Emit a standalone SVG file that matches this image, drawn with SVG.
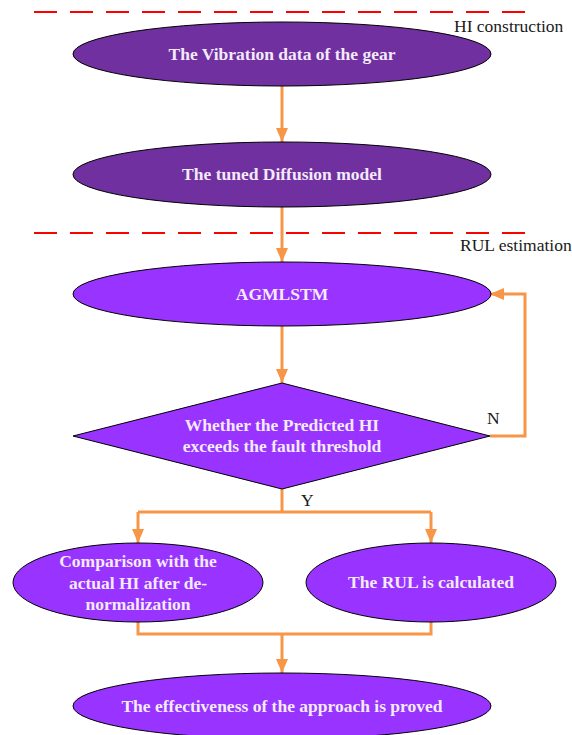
<svg xmlns="http://www.w3.org/2000/svg" width="572" height="735" viewBox="0 0 572 735">
  <style>
    .dark { fill: #7030A0; stroke: #000000; stroke-width: 1; }
    .light { fill: #9933FF; stroke: #000000; stroke-width: 1; }
    .nt { font-family: "Liberation Serif", "Times New Roman", serif; font-weight: bold; font-size: 17.5px; fill: #F3EAFB; text-anchor: middle; }
    .lbl { font-family: "Liberation Serif", "Times New Roman", serif; font-size: 17.5px; fill: #1a1a1a; }
    .sep { stroke: #FF0000; stroke-width: 2; stroke-dasharray: 23 13; fill: none; }
    .conn { stroke: #F79646; stroke-width: 3; fill: none; }
  </style>
  <defs>
    <marker id="ah" viewBox="0 0 14 12" refX="14" refY="6" markerWidth="14" markerHeight="12" markerUnits="userSpaceOnUse" orient="auto">
      <path d="M0,0 L14,6 L0,12 Z" fill="#F79646"/>
    </marker>
  </defs>

  <g id="separators">
    <line class="sep" x1="34" y1="12" x2="525" y2="12"/>
    <line class="sep" x1="34" y1="233" x2="525" y2="233"/>
    <text class="lbl" x="454" y="32">HI construction</text>
    <text class="lbl" x="460" y="251">RUL estimation</text>
  </g>

  <g id="connectors">
    <line class="conn" x1="282" y1="86" x2="282" y2="142" marker-end="url(#ah)"/>
    <line class="conn" x1="282" y1="207" x2="282" y2="262" marker-end="url(#ah)"/>
    <line class="conn" x1="282" y1="326" x2="282" y2="383" marker-end="url(#ah)"/>
    <polyline class="conn" points="490,436 525,436 525,294 490,294" marker-end="url(#ah)"/>
    <polyline class="conn" points="282,489 282,512"/>
    <polyline class="conn" points="138,512 431,512"/>
    <line class="conn" x1="138" y1="512" x2="138" y2="543" marker-end="url(#ah)"/>
    <line class="conn" x1="431" y1="512" x2="431" y2="543" marker-end="url(#ah)"/>
    <polyline class="conn" points="138,622 138,634 431,634 431,622"/>
    <line class="conn" x1="282" y1="634" x2="282" y2="673" marker-end="url(#ah)"/>
    <text class="lbl" x="487" y="424">N</text>
    <text class="lbl" x="301" y="506">Y</text>
  </g>

  <g id="n1">
    <ellipse class="dark" cx="282" cy="54" rx="209" ry="32"/>
    <text class="nt" x="282" y="59.5">The Vibration data of the gear</text>
  </g>
  <g id="n2">
    <ellipse class="dark" cx="282" cy="174.5" rx="209" ry="32.5"/>
    <text class="nt" x="282" y="180">The tuned Diffusion model</text>
  </g>
  <g id="n3">
    <ellipse class="light" cx="282" cy="294" rx="209" ry="32"/>
    <text class="nt" x="282" y="300">AGMLSTM</text>
  </g>
  <g id="n4">
    <polygon class="light" points="282,383 490,436 282,489 73,436"/>
    <text class="nt" x="282" y="431">Whether the Predicted HI</text>
    <text class="nt" x="282" y="452">exceeds the fault threshold</text>
  </g>
  <g id="n5">
    <ellipse class="light" cx="138" cy="582.5" rx="125" ry="39.5"/>
    <text class="nt" x="138" y="567">Comparison with the</text>
    <text class="nt" x="138" y="589">actual HI after de-</text>
    <text class="nt" x="138" y="610">normalization</text>
  </g>
  <g id="n6">
    <ellipse class="light" cx="431" cy="582.5" rx="125" ry="39.5"/>
    <text class="nt" x="431" y="588">The RUL is calculated</text>
  </g>
  <g id="n7">
    <ellipse class="light" cx="282" cy="706" rx="209" ry="33"/>
    <text class="nt" x="282" y="712">The effectiveness of the approach is proved</text>
  </g>
</svg>
